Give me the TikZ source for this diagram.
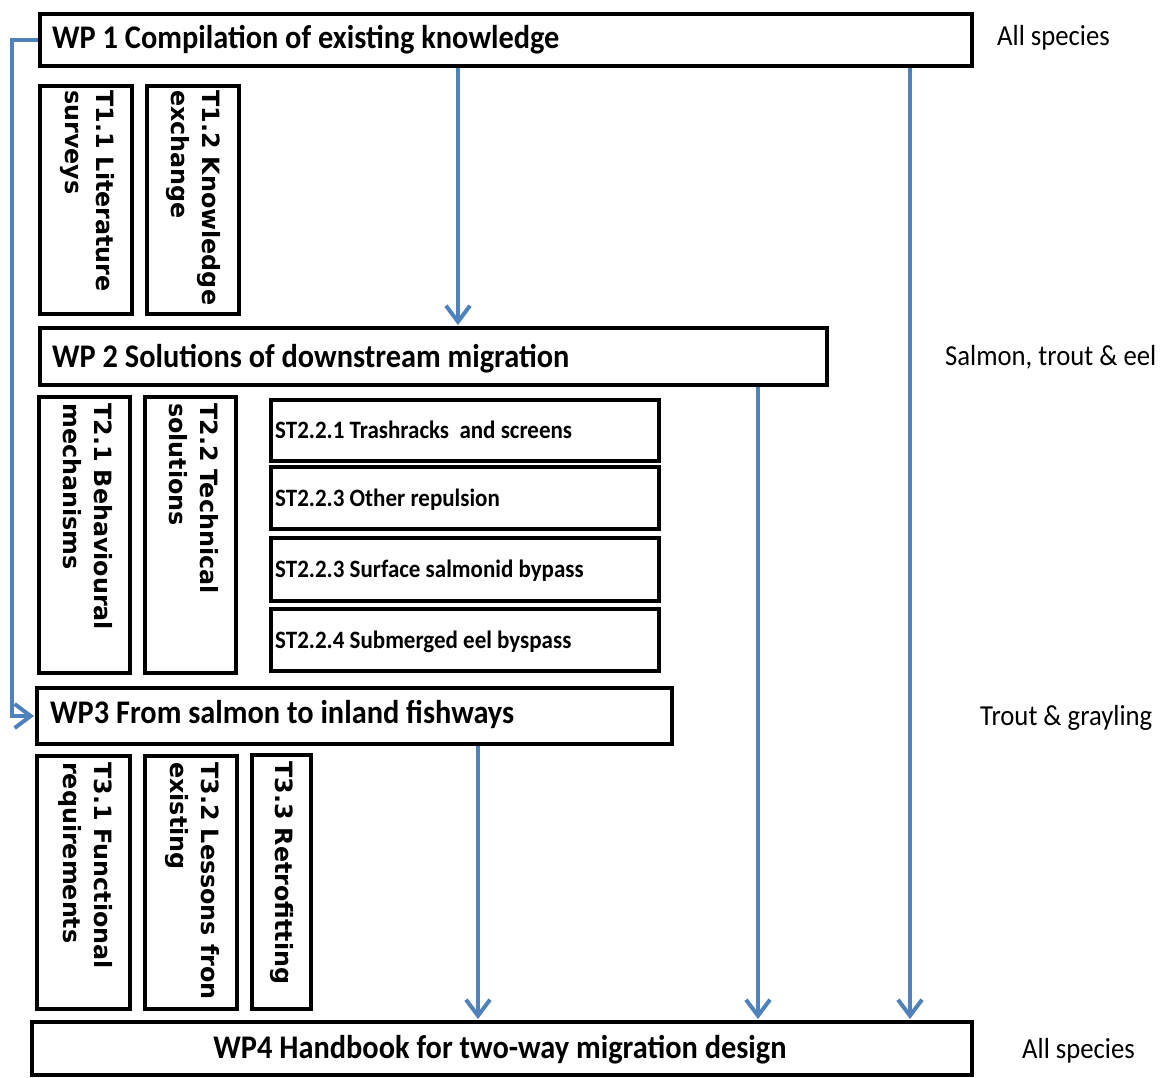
\documentclass[tikz,border=0pt]{standalone}
\usepackage{fontspec}
\usetikzlibrary{arrows.meta,calc}
\newfontfamily\cfont[FakeStretch=0.92]{Carlito}
\newfontfamily\tfont{DejaVu Sans Bold}
\definecolor{arrblue}{HTML}{4F81BD}
\tikzset{
  box/.style={draw=black, line width=4pt, anchor=north west, inner sep=0pt},
  wptext/.style={inner sep=0pt, font=\cfont\bfseries\fontsize{33}{38}\selectfont},
  sttext/.style={inner sep=0pt, anchor=base west, font=\cfont\bfseries\fontsize{25}{30}\selectfont},
  sptext/.style={inner sep=0pt, anchor=base west, font=\cfont\fontsize{29}{34}\selectfont},
  tlabel/.style={rotate=-90, anchor=north west, align=left, inner sep=0pt, font=\tfont\fontsize{23.8}{31}\selectfont},
  conn/.style={draw=arrblue, line width=4pt, -{Straight Barb[length=16pt,width=24pt,line width=4pt]}, shorten >=1pt},
}
\begin{document}
\begin{tikzpicture}[x=1pt,y=1pt]
\useasboundingbox (0,0) rectangle (1162,-1077);
\fill[white] (0,0) rectangle (1162,-1077);

% WP boxes
\node[box, minimum width=932, minimum height=52] (wp1) at (38,-12) {};
\node[box, minimum width=787, minimum height=57] (wp2) at (38,-326) {};
\node[box, minimum width=635, minimum height=56] (wp3) at (35,-686) {};
\node[box, minimum width=940, minimum height=53] (wp4) at (30,-1020) {};

% task boxes
\node[box, minimum width=92, minimum height=228] (t11) at (38,-84) {};
\node[box, minimum width=92, minimum height=228] (t12) at (145,-84) {};
\node[box, minimum width=91, minimum height=276] (t21) at (37,-395) {};
\node[box, minimum width=91, minimum height=276] (t22) at (143,-395) {};
\node[box, minimum width=388, minimum height=61] (st1) at (269,-398) {};
\node[box, minimum width=388, minimum height=62] (st2) at (269,-465) {};
\node[box, minimum width=388, minimum height=63] (st3) at (269,-536) {};
\node[box, minimum width=388, minimum height=62] (st4) at (269,-607) {};
\node[box, minimum width=93, minimum height=253] (t31) at (35,-754) {};
\node[box, minimum width=92, minimum height=253] (t32) at (143,-754) {};
\node[box, minimum width=59, minimum height=254] (t33) at (250,-753) {};

% WP texts
\node[wptext, anchor=base west] (wp1t) at (52,-48) {WP 1 Compilation of existing knowledge};
\node[wptext, anchor=base west] (wp2t) at (52,-367) {WP 2 Solutions of downstream migration};
\node[wptext, anchor=base west] (wp3t) at (50,-723) {WP3 From salmon to inland fishways};
\node[wptext, anchor=base] (wp4t) at (500,-1058) {WP4 Handbook for two-way migration design};

% ST texts
\node[sttext] (st1t) at ($(st1.west)+(6,-8)$) {ST2.2.1 Trashracks\ \ and screens};
\node[sttext] (st2t) at ($(st2.west)+(6,-8)$) {ST2.2.3 Other repulsion};
\node[sttext] (st3t) at ($(st3.west)+(6,-8)$) {ST2.2.3 Surface salmonid bypass};
\node[sttext] (st4t) at ($(st4.west)+(6,-8)$) {ST2.2.4 Submerged eel byspass};

% vertical task texts
\node[tlabel] (t11t) at ($(t11.north east)+(-19,-6)$) {T1.1 Literature\\surveys};
\node[tlabel] (t12t) at ($(t12.north east)+(-20,-6)$) {T1.2 Knowledge\\exchange};
\node[tlabel] (t21t) at ($(t21.north east)+(-19,-8)$) {T2.1 Behavioural\\mechanisms};
\node[tlabel] (t22t) at ($(t22.north east)+(-19,-8)$) {T2.2 Technical\\solutions};
\node[tlabel] (t31t) at ($(t31.north east)+(-19,-8)$) {T3.1 Functional\\requirements};
\node[tlabel] (t32t) at ($(t32.north east)+(-19,-8)$) {T3.2 Lessons fron\\existing};
\node[tlabel] (t33t) at ($(t33.north east)+(-19,-8)$) {T3.3 Retrofitting};

% species labels
\node[sptext] (sp1) at (997,-45) {All species};
\node[sptext] (sp2) at (945,-365) {Salmon, trout \& eel};
\node[sptext] (sp3) at (980,-725) {Trout \& grayling};
\node[sptext] (sp4) at (1022,-1058) {All species};

% connectors
\coordinate (c1) at (458,0);
\coordinate (c2) at (910,0);
\coordinate (c3) at (758,0);
\coordinate (c4) at (478,0);
\draw[conn] (wp1.south -| c1) -- (wp2.north -| c1);
\draw[conn] (wp1.south -| c2) -- (wp4.north -| c2);
\draw[conn] (wp2.south -| c3) -- (wp4.north -| c3);
\draw[conn] (wp3.south -| c4) -- (wp4.north -| c4);
\draw[conn] (wp1.west) -- ++(-26,0) |- (wp3.west);
\end{tikzpicture}
\end{document}
